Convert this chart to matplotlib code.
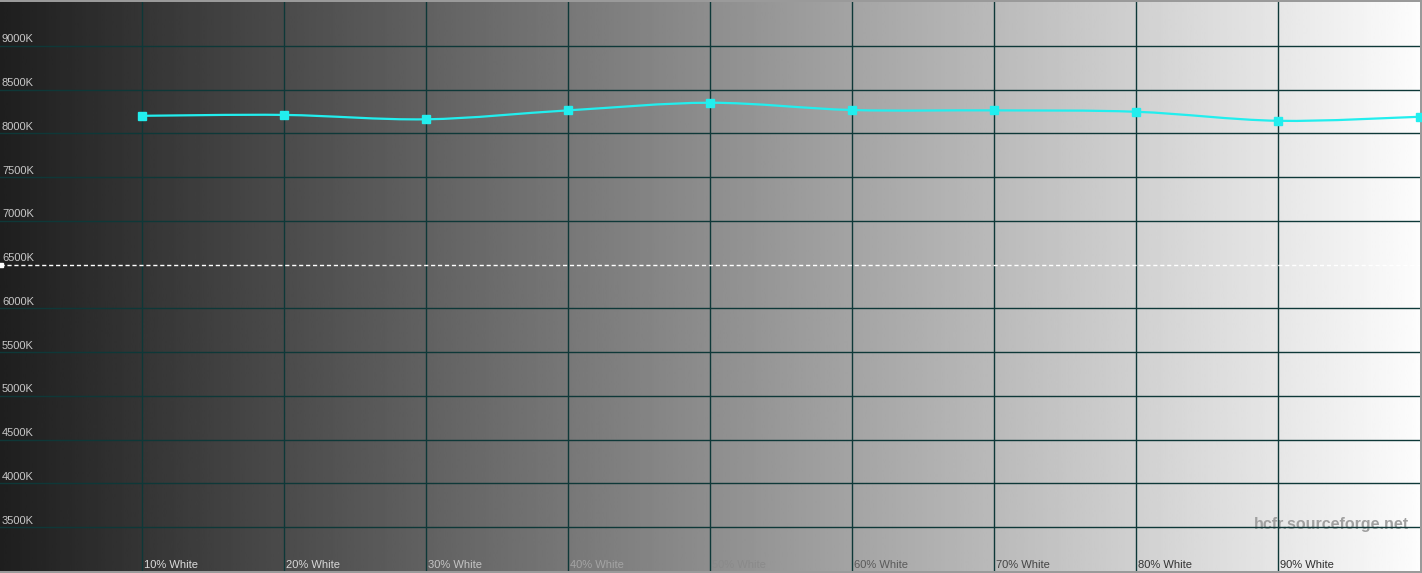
import numpy as np
import matplotlib.pyplot as plt
from matplotlib.path import Path
from matplotlib.patches import PathPatch
from matplotlib.transforms import blended_transform_factory

plt.rcParams['font.family'] = ['Liberation Sans', 'DejaVu Sans']

# measured colour temperature per grey level
levels = [10, 20, 30, 40, 50, 60, 70, 80, 90, 100]
temps = [8200, 8210, 8160, 8262, 8349, 8266, 8262, 8246, 8143, 8189]

x_labels = ['10% White', '20% White', '30% White', '40% White', '50% White',
            '60% White', '70% White', '80% White', '90% White']
x_label_colors = ['#dcdcdc', '#d8d8d8', '#c4c4c4', '#a4a4a4', '#8a8a8a',
                  '#5a5a5a', '#444444', '#333333', '#2e2e2e']

y_ticks = [3500, 4000, 4500, 5000, 5500, 6000, 6500, 7000, 7500, 8000, 8500, 9000]
y_tick_labels = ['%dK' % t for t in y_ticks]
ref_temp = 6500

W, H = 1422, 573
fig = plt.figure(figsize=(W / 100, H / 100), dpi=100)
fig.patch.set_facecolor('#9a9a9a')

ax = fig.add_axes([0, 2 / H, 1420 / W, 569 / H])
ax.set_xlim(0, 100)
ax.set_ylim(3000, 9500)
ax.axis('off')

# grey ramp background
ramp = np.linspace(0.12, 0.99, 600).reshape(1, -1)
ax.imshow(ramp, cmap='gray', vmin=0, vmax=1, aspect='auto',
          extent=[0, 100, 3000, 9500], zorder=0)

grid_col = '#0e3838'
for t in y_ticks:
    if t == ref_temp:
        continue
    ax.axhline(t, color=grid_col, lw=1, zorder=2)
for lv in levels[:-1]:
    ax.axvline(lv, color=grid_col, lw=1, zorder=2)

# reference 6500K dashed line
ax.axhline(ref_temp, color='white', lw=1, ls=(0, (3, 2)), zorder=3)
ax.plot([0.1], [ref_temp], marker='s', ms=3, color='white', clip_on=False, zorder=3)

# y labels
for t, lab in zip(y_ticks, y_tick_labels):
    ax.annotate(lab, (0, t), xytext=(2, 1.5), textcoords='offset pixels',
                ha='left', va='bottom', fontsize=8, color='#c8c8c8', zorder=4)

# x labels
tr = blended_transform_factory(ax.transData, ax.transAxes)
for lv, lab, c in zip(levels, x_labels, x_label_colors):
    ax.text(lv + 0.12, 0.001, lab, transform=tr, ha='left', va='bottom',
            fontsize=8, color=c, zorder=4)

# smooth curve through the measurements (Catmull-Rom as cubic beziers)
px = np.array(levels, dtype=float)
py = np.array(temps, dtype=float)
verts = [(px[0], py[0])]
codes = [Path.MOVETO]
n = len(px)
for i in range(n - 1):
    p0 = (px[max(i - 1, 0)], py[max(i - 1, 0)])
    p1 = (px[i], py[i])
    p2 = (px[i + 1], py[i + 1])
    p3 = (px[min(i + 2, n - 1)], py[min(i + 2, n - 1)])
    c1 = (p1[0] + (p2[0] - p0[0]) / 6, p1[1] + (p2[1] - p0[1]) / 6)
    c2 = (p2[0] - (p3[0] - p1[0]) / 6, p2[1] - (p3[1] - p1[1]) / 6)
    verts += [c1, c2, p2]
    codes += [Path.CURVE4] * 3
curve = PathPatch(Path(verts, codes), fill=False, edgecolor='#22eeee', lw=1.6,
                  zorder=5, clip_on=False)
ax.add_patch(curve)
ax.plot(levels, temps, ls='none', marker='s', ms=5.5, color='#22eeee',
        zorder=6, clip_on=False)

# watermark (sits under the grid lines)
ax.text(0.9925, 0.081, 'hcfr.sourceforge.net', transform=ax.transAxes,
        ha='right', va='center', fontsize=11.5, fontweight='bold',
        color='#a0a0a0', zorder=1)

fig.savefig('out.png', dpi=100, facecolor=fig.get_facecolor())
